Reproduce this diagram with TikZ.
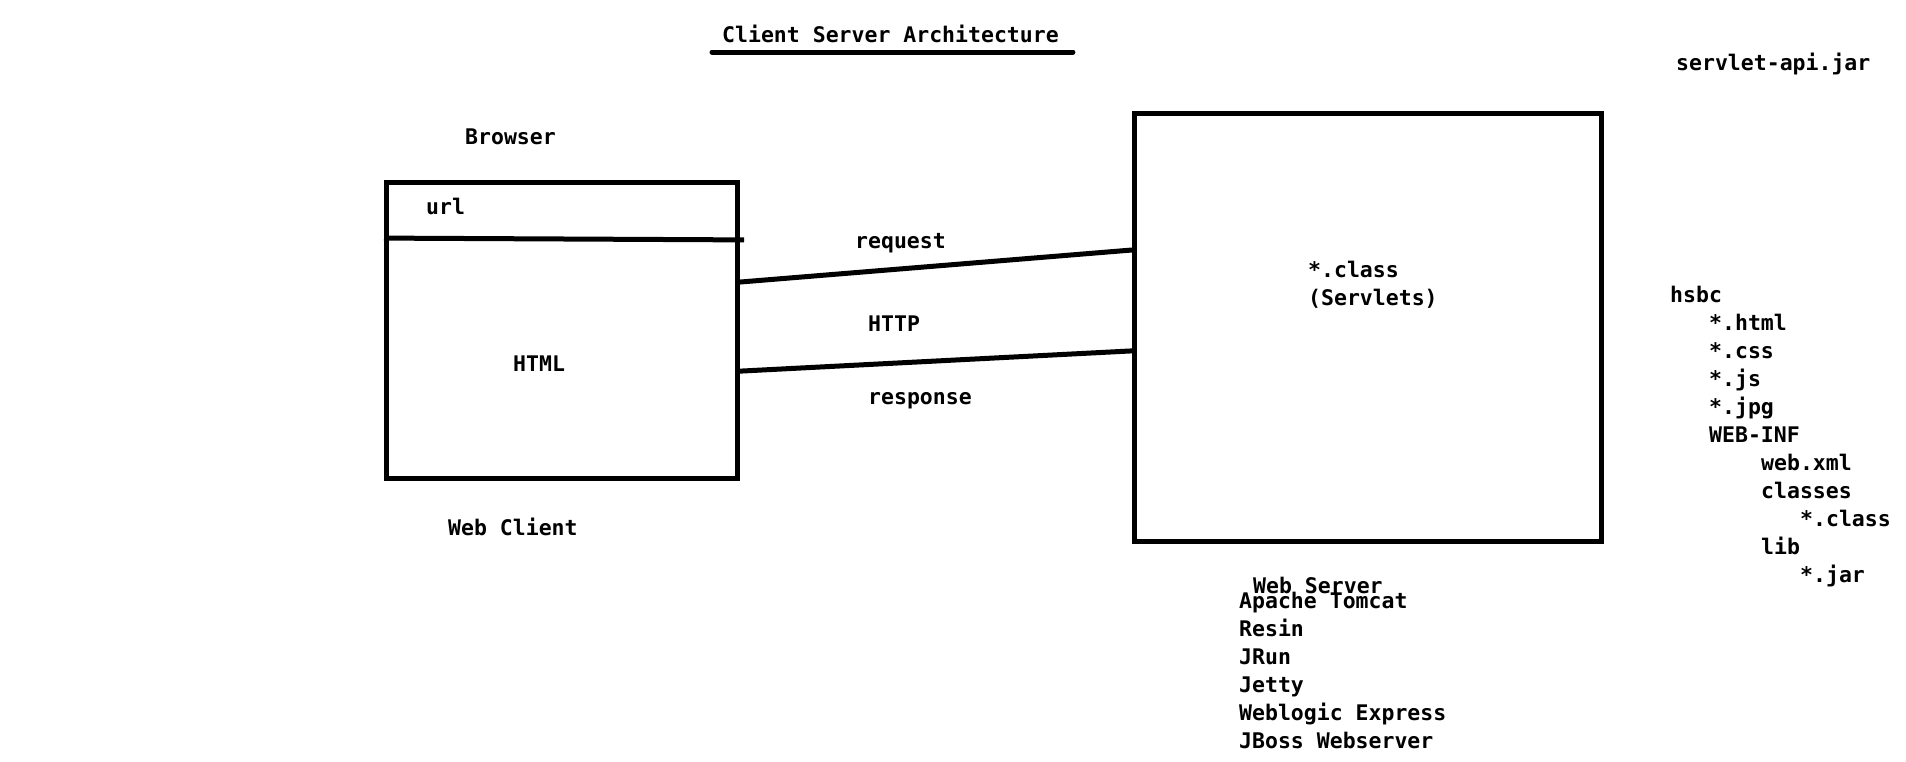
\documentclass[tikz,border=0pt]{standalone}
\usepackage{fontspec}
\setmonofont{DejaVu Sans Mono}
\usetikzlibrary{calc}
\tikzset{
  txt/.style={anchor=base west, inner sep=0pt, font=\ttfamily\bfseries\fontsize{21.5}{28}\selectfont},
  boxnode/.style={draw, line width=5pt, inner sep=0pt},
  wire/.style={line width=5pt},
}
\begin{document}
\begin{tikzpicture}[x=1pt,y=-1pt]
\useasboundingbox (0,0) rectangle (1906,761);
% title
\node[txt] (title) at (722,42) {Client Server Architecture};
\coordinate (ulA) at ($(title.base west)+(-10,10)$);
\coordinate (ulB) at ($(title.base east)+(14,10)$);
\draw[wire, line cap=round] (ulA) -- (ulB);
% browser
\node[txt] (browserlbl) at (465,144) {Browser};
\node[boxnode, minimum width=351pt, minimum height=296pt, anchor=north west] (browser) at (384,180) {};
\node[txt] (url) at (426,214) {url};
\node[txt] (html) at (513,371) {HTML};
\node[txt] (webclient) at (448,535) {Web Client};
\coordinate (urlA) at ($(browser.north west)!0.193!(browser.south west)$);
\coordinate (urlB) at ($(browser.north east)!0.199!(browser.south east)+(4,0)$);
\draw[wire] (urlA) -- (urlB);
% server
\node[boxnode, minimum width=467pt, minimum height=428pt, anchor=north west] (server) at (1132,111) {};
\node[txt] (cls) at (1308,277) {*.class};
\node[txt] (servlets) at (1308,305) {(Servlets)};
% connectors
\coordinate (reqA) at ($(browser.north east)!0.339!(browser.south east)$);
\coordinate (reqB) at ($(server.north west)!0.321!(server.south west)$);
\coordinate (resA) at ($(browser.north east)!0.635!(browser.south east)$);
\coordinate (resB) at ($(server.north west)!0.554!(server.south west)$);
\draw[wire] (reqA) -- (reqB);
\draw[wire] (resA) -- (resB);
\node[txt] (request) at (855,248) {request};
\node[txt] (http) at (868,331) {HTTP};
\node[txt] (response) at (868,404) {response};
% web server list
\node[txt] (websrv) at (1253,593) {Web Server};
\node[txt] (s1) at (1239,608) {Apache Tomcat};
\node[txt] (s2) at (1239,636) {Resin};
\node[txt] (s3) at (1239,664) {JRun};
\node[txt] (s4) at (1239,692) {Jetty};
\node[txt] (s5) at (1239,720) {Weblogic Express};
\node[txt] (s6) at (1239,748) {JBoss Webserver};
% right side
\node[txt] (api) at (1676,70) {servlet-api.jar};
\node[txt] (t0) at (1670,302) {hsbc};
\node[txt] (t1) at (1709,330) {*.html};
\node[txt] (t2) at (1709,358) {*.css};
\node[txt] (t3) at (1709,386) {*.js};
\node[txt] (t4) at (1709,414) {*.jpg};
\node[txt] (t5) at (1709,442) {WEB-INF};
\node[txt] (t6) at (1761,470) {web.xml};
\node[txt] (t7) at (1761,498) {classes};
\node[txt] (t8) at (1800,526) {*.class};
\node[txt] (t9) at (1761,554) {lib};
\node[txt] (t10) at (1800,582) {*.jar};
\end{tikzpicture}
\end{document}
